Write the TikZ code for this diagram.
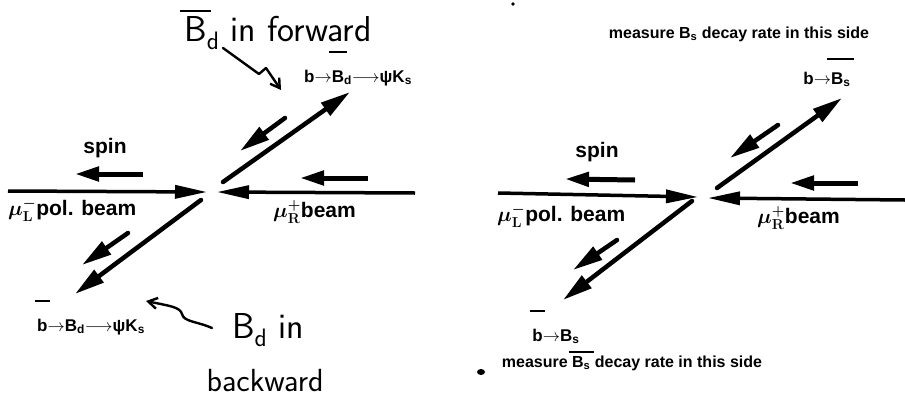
\documentclass[tikz,border=0pt]{standalone}
\usepackage{fontspec}
\setmainfont{Liberation Sans}
\usetikzlibrary{arrows.meta}
\newcommand\ovbar[2][1.6em]{\leavevmode\setbox0\hbox{#2}\makebox[\wd0]{\raisebox{#1}{\rule{1.4\wd0}{2pt}}}\llap{\box0}}
\begin{document}
\begin{tikzpicture}[x=1pt,y=-1pt,
 beam/.style={line width=3.5pt,-{Triangle[length=32pt,width=13pt]}},
 spinarr/.style={line width=5pt,-{Triangle[length=24pt,width=14pt]}},
 prod/.style={line width=4.5pt,line cap=round,-{Triangle[length=30pt,width=15pt]}},
 hand/.style={line width=2.4pt,line cap=round,line join=round,-{Straight Barb[length=9pt,width=11pt]}},
 lbl/.style={font=\fontsize{21}{24}\selectfont\bfseries, inner sep=0pt, anchor=base},
 small/.style={font=\fontsize{17}{20}\selectfont\bfseries, inner sep=0pt, anchor=base},
 tiny/.style={font=\fontsize{16}{18}\selectfont\bfseries, inner sep=0pt, anchor=base},
 handtxt/.style={font=\fontsize{36}{40}\selectfont\sffamily, inner sep=0pt, anchor=base},
 handsm/.style={font=\fontsize{32}{36}\selectfont\sffamily, inner sep=0pt, anchor=base}]
\useasboundingbox (0,0) rectangle (905,402);

% ---------- left diagram ----------
\coordinate (lb1s) at (8,191);   \coordinate (lb1e) at (207,192);
\coordinate (rb1s) at (415,193); \coordinate (rb1e) at (217,192);
\coordinate (sl1s) at (143,174); \coordinate (sl1e) at (75,174);
\coordinate (sr1s) at (368,178); \coordinate (sr1e) at (300,178);
\coordinate (f1s) at (223,182);  \coordinate (f1e) at (350,92);
\coordinate (fs1s) at (285,118); \coordinate (fs1e) at (240,151);
\coordinate (b1s) at (201,200);  \coordinate (b1e) at (75,294);
\coordinate (bs1s) at (128,233); \coordinate (bs1e) at (82,265);

\draw[beam] (lb1s) -- (lb1e);
\draw[beam] (rb1s) -- (rb1e);
\draw[spinarr] (sl1s) -- (sl1e);
\draw[spinarr] (sr1s) -- (sr1e);
\draw[prod] (f1s) -- (f1e);
\draw[prod] (fs1s) -- (fs1e);
\draw[prod] (b1s) -- (b1e);
\draw[prod] (bs1s) -- (bs1e);

\node[lbl] (spin1) at (105,153) {spin};
\node[lbl,anchor=base west] (muL1) at (8,215) {{\boldmath$\mu^{-}_{\mathbf{L}}$}pol. beam};
\node[lbl,anchor=base west] (muR1) at (273,217) {{\boldmath$\mu^{+}_{\mathbf{R}}$}beam};
\node[small] (dec1) at (358,82) {b$\rightarrow$\ovbar[1.7em]{B}\textsubscript{d}$\longrightarrow$ψK\textsubscript{s}};
\node[small] (dec2) at (91,331) {\ovbar[1.7em]{b}$\rightarrow$B\textsubscript{d}$\longrightarrow$ψK\textsubscript{s}};

\node[handtxt] (hf) at (278,41) {\ovbar[0.8em]{B}\textsubscript{d} in forward};
\node[handtxt] (hb1) at (268,338) {B\textsubscript{d} in};
\node[handsm] (hb2) at (265,391) {backward};

\coordinate (ha1) at (223,48);
\coordinate (ha2) at (259,74);
\coordinate (ha3) at (266,68);
\coordinate (ha4) at (281,90);
\draw[hand] (ha1) -- (ha2) -- (ha3) -- (ha4);
\coordinate (hc1) at (212,328);
\coordinate (hc2) at (182,314);
\coordinate (hc3) at (146,301);
\draw[hand] (hc1) .. controls (196,321) and (184,322) .. (hc2) .. controls (180,307) and (170,306) .. (hc3);

% ---------- right diagram ----------
\coordinate (lb2s) at (498,193); \coordinate (lb2e) at (698,197);
\coordinate (rb2s) at (905,200); \coordinate (rb2e) at (708,198);
\coordinate (sl2s) at (635,180); \coordinate (sl2e) at (565,179);
\coordinate (sr2s) at (858,183); \coordinate (sr2e) at (790,183);
\coordinate (f2s) at (717,188);  \coordinate (f2e) at (842,98);
\coordinate (fs2s) at (778,125); \coordinate (fs2e) at (730,158);
\coordinate (b2s) at (692,201);  \coordinate (b2e) at (563,300);
\coordinate (bs2s) at (617,240); \coordinate (bs2e) at (573,270);

\draw[beam] (lb2s) -- (lb2e);
\draw[beam] (rb2s) -- (rb2e);
\draw[spinarr] (sl2s) -- (sl2e);
\draw[spinarr] (sr2s) -- (sr2e);
\draw[prod] (f2s) -- (f2e);
\draw[prod] (fs2s) -- (fs2e);
\draw[prod] (b2s) -- (b2e);
\draw[prod] (bs2s) -- (bs2e);

\node[lbl] (spin2) at (597,157) {spin};
\node[lbl,anchor=base west] (muL2) at (497,221) {{\boldmath$\mu^{-}_{\mathbf{L}}$}pol. beam};
\node[lbl,anchor=base west] (muR2) at (757,223) {{\boldmath$\mu^{+}_{\mathbf{R}}$}beam};
\node[small] (dec3) at (827,84) {b$\rightarrow$\ovbar[1.4em]{B\textsubscript{s}}};
\node[small] (dec4) at (556,341) {\ovbar[1.7em]{b}$\rightarrow$B\textsubscript{s}};
\node[tiny] (meas1) at (739,38) {measure B\textsubscript{s} decay rate in this side};
\node[tiny] (meas2) at (632,367) {measure \ovbar[0.85em]{B\textsubscript{s}} decay rate in this side};

\fill (513,4) circle (1.8pt);
\fill (481,372) ellipse (4pt and 3pt);
\end{tikzpicture}
\end{document}
